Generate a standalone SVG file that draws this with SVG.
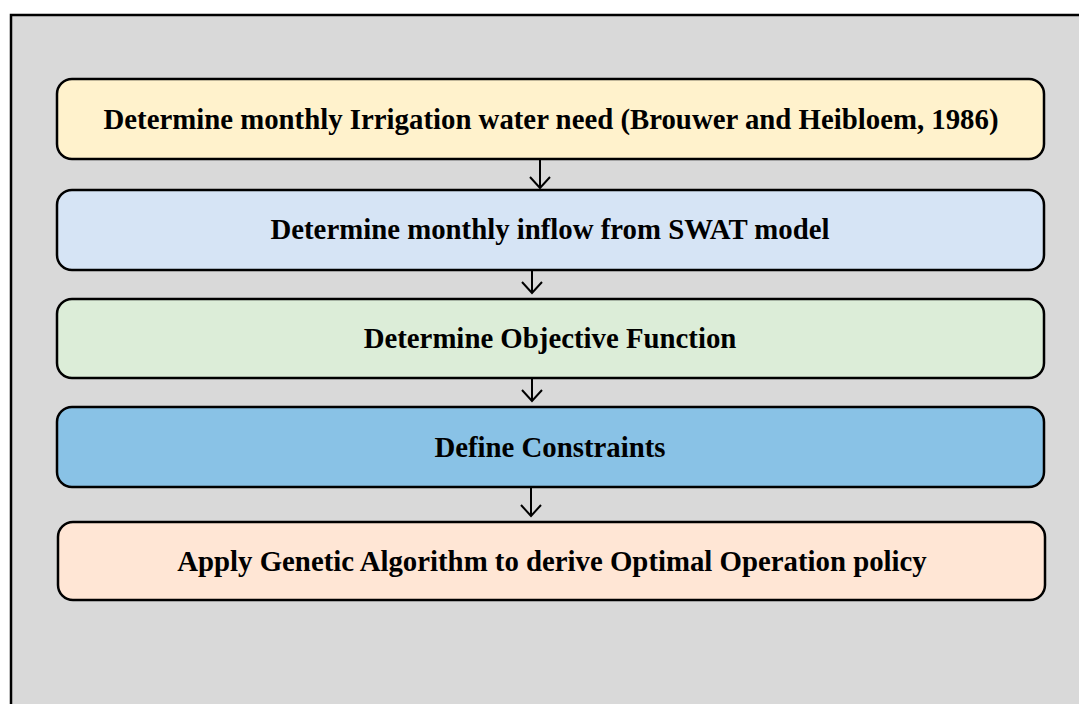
<svg xmlns="http://www.w3.org/2000/svg" width="1079" height="704" viewBox="0 0 1079 704">
<defs>
<marker id="arr" markerWidth="14" markerHeight="22" refX="12" refY="11" orient="auto" markerUnits="userSpaceOnUse" viewBox="0 0 14 22">
<path d="M1,1 L12,11 L1,21" fill="none" stroke="#000" stroke-width="2"/>
</marker>
<style>
.box{stroke:#000;stroke-width:2.5}
.lbl{font-family:"Liberation Serif","Times New Roman",serif;font-weight:bold;font-size:28.8px;fill:#000;text-anchor:middle}
.conn{stroke:#000;stroke-width:2;fill:none}
</style>
</defs>
<rect x="11" y="15" width="1080" height="700" fill="#D9D9D9" stroke="#000" stroke-width="2.5"/>
<g id="connectors">
<line class="conn" x1="540" y1="160" x2="540" y2="188" marker-end="url(#arr)"/>
<line class="conn" x1="532" y1="271" x2="532" y2="293" marker-end="url(#arr)"/>
<line class="conn" x1="532" y1="379" x2="532" y2="401" marker-end="url(#arr)"/>
<line class="conn" x1="531" y1="488" x2="531" y2="516" marker-end="url(#arr)"/>
</g>
<g id="n1"><rect class="box" x="57" y="79" width="987" height="80" rx="15" fill="#FFF2CC"/><text class="lbl" x="551" y="129">Determine monthly Irrigation water need (Brouwer and Heibloem, 1986)</text></g>
<g id="n2"><rect class="box" x="57" y="190" width="987" height="80" rx="15" fill="#D6E4F5"/><text class="lbl" x="550" y="239">Determine monthly inflow from SWAT model</text></g>
<g id="n3"><rect class="box" x="57" y="299" width="987" height="79" rx="15" fill="#DCEDD8"/><text class="lbl" x="550" y="348">Determine Objective Function</text></g>
<g id="n4"><rect class="box" x="57" y="407" width="987" height="80" rx="15" fill="#89C2E6"/><text class="lbl" x="550" y="457">Define Constraints</text></g>
<g id="n5"><rect class="box" x="58" y="522" width="987" height="78" rx="15" fill="#FFE6D5"/><text class="lbl" x="552" y="571">Apply Genetic Algorithm to derive Optimal Operation policy</text></g>
</svg>
